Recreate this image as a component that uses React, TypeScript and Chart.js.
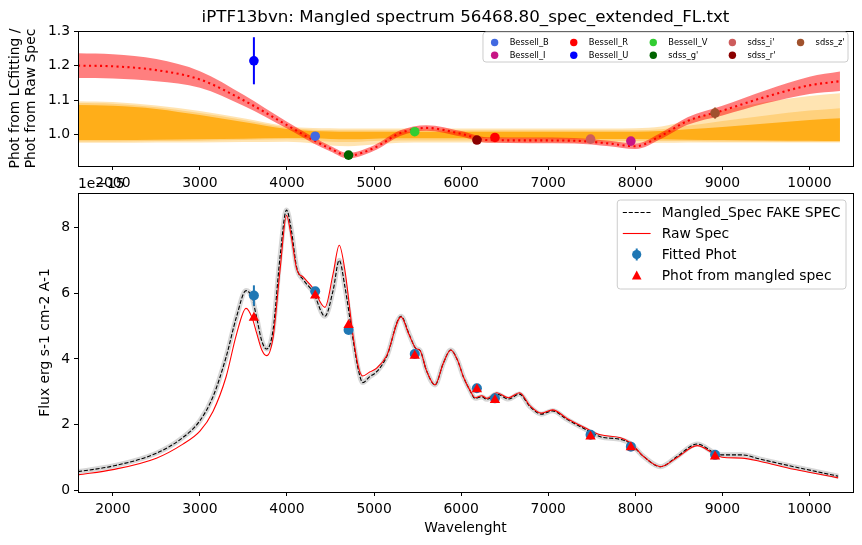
import { useEffect, useRef } from "react";
import { Chart, registerables } from "chart.js";

Chart.register(...registerables);

const FONT = "'DejaVu Sans', sans-serif";
Chart.defaults.font.family = FONT;
Chart.defaults.font.size = 13.9;
Chart.defaults.color = "#000";

const TITLE = "iPTF13bvn: Mangled spectrum 56468.80_spec_extended_FL.txt";

// ---- top panel: ratio of photometry ----
const bandWl = [1600, 2000, 2500, 3000, 3500, 4000, 4300, 4500, 4700, 5000, 5300, 5600, 6000, 6300, 6800, 7300, 7700, 8000, 8300, 8600, 9000, 9500, 10000, 10350];
const mangleFit = [1.2, 1.198, 1.187, 1.16, 1.1, 1.028, 0.985, 0.96, 0.94, 0.962, 1.005, 1.02, 1.003, 0.985, 0.984, 0.983, 0.975, 0.967, 0.998, 1.04, 1.07, 1.11, 1.143, 1.155];
const mangleUpper = [1.236, 1.233, 1.219, 1.184, 1.116, 1.038, 0.994, 0.968, 0.948, 0.97, 1.013, 1.028, 1.011, 0.993, 0.992, 0.991, 0.983, 0.975, 1.007, 1.051, 1.084, 1.129, 1.168, 1.183];
const mangleLower = [1.164, 1.163, 1.155, 1.136, 1.084, 1.018, 0.976, 0.952, 0.932, 0.954, 0.997, 1.012, 0.995, 0.977, 0.976, 0.975, 0.967, 0.959, 0.989, 1.029, 1.056, 1.091, 1.118, 1.127];
const realisOuterUpper = [1.097, 1.095, 1.085, 1.069, 1.048, 1.025, 1.02, 1.019, 1.018, 1.018, 1.018, 1.018, 1.018, 1.018, 1.018, 1.018, 1.018, 1.019, 1.024, 1.042, 1.07, 1.095, 1.112, 1.12];
const realisOuterLower = [0.977, 0.977, 0.978, 0.978, 0.979, 0.98, 0.975, 0.969, 0.967, 0.972, 0.977, 0.978, 0.978, 0.978, 0.978, 0.977, 0.976, 0.976, 0.977, 0.978, 0.978, 0.978, 0.978, 0.978];
const realisMidUpper = [1.092, 1.09, 1.08, 1.063, 1.043, 1.021, 1.015, 1.014, 1.013, 1.013, 1.013, 1.013, 1.013, 1.013, 1.013, 1.013, 1.013, 1.013, 1.016, 1.026, 1.04, 1.056, 1.07, 1.077];
const realisMidLower = [0.981, 0.981, 0.982, 0.983, 0.985, 0.987, 0.984, 0.98, 0.979, 0.982, 0.984, 0.984, 0.984, 0.984, 0.984, 0.983, 0.982, 0.982, 0.982, 0.982, 0.981, 0.981, 0.98, 0.98];
const realisInnerUpper = [1.086, 1.084, 1.075, 1.057, 1.037, 1.017, 1.011, 1.01, 1.009, 1.009, 1.009, 1.009, 1.009, 1.009, 1.009, 1.009, 1.009, 1.009, 1.011, 1.016, 1.023, 1.033, 1.043, 1.048];
const realisInnerLower = [0.985, 0.985, 0.986, 0.987, 0.989, 0.991, 0.99, 0.988, 0.987, 0.989, 0.99, 0.99, 0.99, 0.99, 0.99, 0.989, 0.988, 0.988, 0.987, 0.986, 0.985, 0.984, 0.983, 0.982];

const filterNames = ["Bessell_B", "Bessell_I", "Bessell_R", "Bessell_U", "Bessell_V", "sdss_g'", "sdss_i'", "sdss_r'", "sdss_z'"];
const filterColors = ["#4169E1", "#C71585", "#FF0000", "#0000FF", "#32CD32", "#006400", "#CD5C5C", "#8B0000", "#A0522D"];
const filterWl = [4324, 7949, 6388, 3620, 5467, 4707, 7486, 6181, 8916];
const ratio = [0.996, 0.982, 0.9925, 1.214, 1.009, 0.9415, 0.9876, 0.985, 1.063];
const ratioErr = [0.004, 0.004, 0.004, 0.068, 0.004, 0.004, 0.004, 0.004, 0.016];

// ---- bottom panel: spectra ----
const specWl = [1600, 2000, 2500, 2800, 3000, 3150, 3300, 3420, 3530, 3600, 3650, 3710, 3766, 3840, 3920, 3995, 4050, 4110, 4190, 4300, 4436, 4530, 4600, 4665, 4760, 4820, 4870, 4950, 5030, 5145, 5310, 5400, 5480, 5530, 5600, 5700, 5795, 5880, 5960, 6025, 6100, 6160, 6237, 6294, 6409, 6543, 6670, 6790, 6920, 7050, 7215, 7440, 7600, 7830, 7940, 8095, 8290, 8480, 8710, 8900, 8995, 9225, 9436, 9819, 10100, 10330];
const mangledFlux = [0.57, 0.74, 1.13, 1.6, 2.12, 2.85, 4.05, 5.28, 6.08, 5.85, 5.28, 4.55, 4.3, 4.88, 7.1, 8.53, 7.92, 6.8, 6.4, 6.04, 5.3, 6.09, 7.0, 6.2, 4.57, 3.66, 3.28, 3.46, 3.61, 4.07, 5.3, 4.77, 4.32, 4.25, 3.66, 3.21, 3.87, 4.27, 3.95, 3.46, 3.05, 2.8, 2.85, 2.77, 2.93, 2.78, 2.93, 2.55, 2.32, 2.42, 2.16, 1.84, 1.63, 1.55, 1.43, 1.03, 0.72, 1.03, 1.41, 1.16, 1.08, 1.08, 0.95, 0.72, 0.56, 0.43];
const rawFlux = [0.47, 0.63, 0.98, 1.4, 1.8, 2.4, 3.45, 4.75, 5.54, 5.25, 4.8, 4.28, 4.1, 4.65, 6.7, 8.37, 7.71, 6.75, 6.48, 6.15, 5.57, 6.6, 7.46, 6.7, 4.68, 3.76, 3.48, 3.6, 3.72, 4.1, 5.28, 4.75, 4.32, 4.25, 3.66, 3.21, 3.87, 4.27, 3.95, 3.46, 3.05, 2.82, 2.88, 2.8, 2.97, 2.82, 2.97, 2.58, 2.35, 2.45, 2.19, 1.88, 1.69, 1.6, 1.46, 1.03, 0.72, 1.0, 1.36, 1.12, 1.01, 0.98, 0.88, 0.64, 0.5, 0.38];
const fittedPhot = [6.06, 1.33, 2.8, 5.93, 4.15, 4.88, 1.69, 3.11, 1.08];
const fittedPhotErr = [0.05, 0.03, 0.04, 0.31, 0.04, 0.05, 0.03, 0.04, 0.03];
const mangledPhot = [5.93, 1.31, 2.75, 5.25, 4.1, 5.03, 1.64, 3.08, 1.03];

const specLegendLabels = ["Mangled_Spec FAKE SPEC", "Raw Spec", "Fitted Phot", "Phot from mangled spec"];

const xTicks = [2000, 3000, 4000, 5000, 6000, 7000, 8000, 9000, 10000];
const ratioTicks = [1.0, 1.1, 1.2, 1.3];
const fluxTicks = [0, 2, 4, 6, 8];

const pts = (xs: number[], ys: number[]) => xs.map((x, i) => ({ x, y: ys[i] }));

// full matplotlib-like frame
const framePlugin = {
  id: "frame",
  afterDraw(chart: any) {
    const { ctx, chartArea: a } = chart;
    ctx.save();
    ctx.strokeStyle = "#000";
    ctx.lineWidth = 1;
    ctx.strokeRect(Math.round(a.left) + 0.5, Math.round(a.top) + 0.5, Math.round(a.right - a.left), Math.round(a.bottom - a.top));
    ctx.restore();
  },
};

// vertical error bars for datasets carrying an errorBars array
const errorBarPlugin = {
  id: "errorBars",
  beforeDatasetDraw(chart: any, args: any) {
    const ds = chart.data.datasets[args.index];
    if (!ds.errorBars) return;
    const { ctx, scales } = chart;
    ctx.save();
    ctx.strokeStyle = ds.borderColor;
    ctx.lineWidth = 2;
    ds.data.forEach((p: any, i: number) => {
      const e = ds.errorBars[i];
      const x = scales.x.getPixelForValue(p.x);
      ctx.beginPath();
      ctx.moveTo(x, scales.y.getPixelForValue(p.y + e));
      ctx.lineTo(x, scales.y.getPixelForValue(p.y - e));
      ctx.stroke();
    });
    ctx.restore();
  },
};

function legendFrame(ctx: any, x: number, y: number, w: number, h: number) {
  ctx.beginPath();
  ctx.roundRect(x, y, w, h, 3);
  ctx.fillStyle = "rgba(255,255,255,0.8)";
  ctx.fill();
  ctx.strokeStyle = "#cccccc";
  ctx.lineWidth = 1;
  ctx.stroke();
}

const ratioDecor = {
  id: "ratioDecor",
  afterDraw(chart: any) {
    const { ctx, chartArea: a } = chart;
    ctx.save();
    ctx.fillStyle = "#000";
    ctx.font = `16.7px ${FONT}`;
    ctx.textAlign = "center";
    ctx.textBaseline = "alphabetic";
    ctx.fillText(TITLE, (a.left + a.right) / 2, 21.5);

    // legend: 2 rows, filled column by column
    const fs = 8.33;
    ctx.font = `${fs}px ${FONT}`;
    const rows = 2;
    const n = filterNames.length;
    const cols = Math.ceil(n / rows);
    const handle = 2 * fs, pad = 0.8 * fs, space = 2 * fs, border = 0.4 * fs;
    const widths: number[] = [];
    for (let c = 0; c < cols; c++) {
      let w = 0;
      for (let r = 0; r < rows; r++) {
        const i = c * rows + r;
        if (i < n) w = Math.max(w, ctx.measureText(filterNames[i]).width);
      }
      widths.push(w);
    }
    const boxW = 2 * border + widths.reduce((s, w) => s + handle + pad + w, 0) + space * (cols - 1);
    const boxH = 30;
    const top = a.top + 1;
    const left = a.right - 5 - boxW;
    legendFrame(ctx, left, top, boxW, boxH);
    ctx.textAlign = "left";
    ctx.textBaseline = "middle";
    let cx = left + border;
    for (let c = 0; c < cols; c++) {
      for (let r = 0; r < rows; r++) {
        const i = c * rows + r;
        if (i >= n) continue;
        const y = top + 10.5 + r * 12.7;
        ctx.fillStyle = filterColors[i];
        ctx.beginPath();
        ctx.arc(cx + handle / 2, y, 3.7, 0, Math.PI * 2);
        ctx.fill();
        ctx.fillStyle = "#000";
        ctx.fillText(filterNames[i], cx + handle + pad, y + 0.5);
      }
      cx += handle + pad + widths[c] + space;
    }
    ctx.restore();
  },
};

const specDecor = {
  id: "specDecor",
  afterDraw(chart: any) {
    const { ctx, chartArea: a } = chart;
    ctx.save();
    ctx.fillStyle = "#000";
    ctx.font = `13.9px ${FONT}`;
    ctx.textAlign = "left";
    ctx.textBaseline = "alphabetic";
    ctx.fillText("1e\u221215", a.left, a.top - 5);

    const fs = 13.9;
    const border = 0.4 * fs, handle = 2 * fs, pad = 0.8 * fs;
    const maxW = Math.max(...specLegendLabels.map((t) => ctx.measureText(t).width));
    const boxW = 2 * border + handle + pad + maxW;
    const boxH = 89;
    const top = a.top + 7;
    const left = a.right - 7 - boxW;
    legendFrame(ctx, left, top, boxW, boxH);
    const hx0 = left + border;
    const hx1 = hx0 + handle;
    const hc = (hx0 + hx1) / 2;
    specLegendLabels.forEach((label, i) => {
      const y = top + 12.5 + i * 21;
      ctx.save();
      if (i === 0 || i === 1) {
        ctx.strokeStyle = i === 0 ? "#000" : "#FF0000";
        ctx.lineWidth = 1.1;
        ctx.setLineDash(i === 0 ? [4.1, 1.8] : []);
        ctx.beginPath();
        ctx.moveTo(hx0, y);
        ctx.lineTo(hx1, y);
        ctx.stroke();
      } else if (i === 2) {
        ctx.strokeStyle = "#1f77b4";
        ctx.lineWidth = 2;
        ctx.beginPath();
        ctx.moveTo(hc, y - 6);
        ctx.lineTo(hc, y + 6);
        ctx.stroke();
        ctx.fillStyle = "#1f77b4";
        ctx.beginPath();
        ctx.arc(hc, y, 4.6, 0, Math.PI * 2);
        ctx.fill();
      } else {
        ctx.fillStyle = "#FF0000";
        ctx.beginPath();
        ctx.moveTo(hc, y - 5);
        ctx.lineTo(hc + 4.8, y + 4);
        ctx.lineTo(hc - 4.8, y + 4);
        ctx.closePath();
        ctx.fill();
      }
      ctx.restore();
      ctx.fillStyle = "#000";
      ctx.textBaseline = "middle";
      ctx.fillText(label, hx1 + pad, y + 0.5);
    });
    ctx.restore();
  },
};

function xAxis(height: number, title?: any) {
  return {
    type: "linear",
    min: 1600,
    max: 10500,
    afterBuildTicks: (s: any) => {
      s.ticks = xTicks.map((v) => ({ value: v }));
    },
    afterFit: (s: any) => {
      s.height = height;
    },
    ticks: { callback: (v: any) => String(v), padding: 5, maxRotation: 0, autoSkip: false },
    grid: { drawOnChartArea: false, color: "#000", tickLength: 4 },
    border: { display: false },
    title: title ?? { display: false },
  };
}

function yAxis(min: number, max: number, ticks: number[], digits: number, title: any) {
  return {
    type: "linear",
    min,
    max,
    afterBuildTicks: (s: any) => {
      s.ticks = ticks.map((v) => ({ value: v }));
    },
    afterFit: (s: any) => {
      s.width = 78;
    },
    ticks: { callback: (v: any) => Number(v).toFixed(digits), padding: 4 },
    grid: { drawOnChartArea: false, color: "#000", tickLength: 4 },
    border: { display: false },
    title,
  };
}

const bandLine = (data: number[], order: number, fillColor?: string) => ({
  data: pts(bandWl, data),
  borderWidth: 0,
  borderColor: "transparent",
  pointRadius: 0,
  cubicInterpolationMode: "monotone",
  fill: fillColor ? "-1" : false,
  backgroundColor: fillColor ?? "transparent",
  order,
});

function RatioPanel() {
  const ref = useRef<HTMLCanvasElement>(null);
  useEffect(() => {
    if (!ref.current) return;
    const chart = new Chart(ref.current, {
      type: "line",
      data: {
        datasets: [
          bandLine(realisOuterLower, 100),
          bandLine(realisOuterUpper, 99, "rgba(255,165,0,0.3)"),
          bandLine(realisMidLower, 98),
          bandLine(realisMidUpper, 97, "rgba(255,165,0,0.3)"),
          bandLine(realisInnerLower, 96),
          bandLine(realisInnerUpper, 95, "rgba(255,165,0,0.8)"),
          bandLine(mangleLower, 90),
          bandLine(mangleUpper, 89, "rgba(255,0,0,0.5)"),
          {
            data: pts(bandWl, mangleFit),
            borderColor: "#FF0000",
            borderWidth: 2.1,
            borderDash: [2.1, 3.4],
            pointRadius: 0,
            cubicInterpolationMode: "monotone",
            fill: false,
            order: 80,
          },
          ...filterNames.map((name, i) => ({
            label: name,
            data: [{ x: filterWl[i], y: ratio[i] }],
            showLine: false,
            pointRadius: 4.8,
            pointBorderWidth: 0,
            pointBackgroundColor: filterColors[i],
            borderColor: filterColors[i],
            errorBars: [ratioErr[i]],
            fill: false,
            order: 0,
          })),
        ] as any,
      },
      options: {
        responsive: false,
        animation: false,
        events: [],
        layout: { padding: { top: 31, right: 9, left: 0, bottom: 0 } },
        scales: {
          x: xAxis(24) as any,
          y: yAxis(0.91, 1.3, ratioTicks, 1, {
            display: true,
            text: ["Phot from LCfitting /", "Phot from Raw Spec"],
            font: { size: 13.9, lineHeight: 1.15 },
            padding: { top: 7, bottom: 0 },
          }) as any,
        },
        plugins: { legend: { display: false }, tooltip: { enabled: false } },
      },
      plugins: [errorBarPlugin, framePlugin, ratioDecor],
    });
    return () => chart.destroy();
  }, []);
  return <canvas ref={ref} width={862} height={190} style={{ position: "absolute", left: 0, top: 0 }} />;
}

function SpectrumPanel() {
  const ref = useRef<HTMLCanvasElement>(null);
  useEffect(() => {
    if (!ref.current) return;
    const chart = new Chart(ref.current, {
      type: "line",
      data: {
        datasets: [
          {
            data: pts(specWl, mangledFlux),
            borderColor: "rgba(140,140,140,0.35)",
            borderWidth: 5,
            pointRadius: 0,
            cubicInterpolationMode: "monotone",
            fill: false,
            order: 30,
          },
          {
            label: "Mangled_Spec FAKE SPEC",
            data: pts(specWl, mangledFlux),
            borderColor: "#000",
            borderWidth: 1.1,
            borderDash: [4.1, 1.8],
            pointRadius: 0,
            cubicInterpolationMode: "monotone",
            fill: false,
            order: 20,
          },
          {
            label: "Raw Spec",
            data: pts(specWl, rawFlux),
            borderColor: "#FF0000",
            borderWidth: 1.1,
            pointRadius: 0,
            cubicInterpolationMode: "monotone",
            fill: false,
            order: 10,
          },
          {
            label: "Fitted Phot",
            data: pts(filterWl, fittedPhot),
            showLine: false,
            pointRadius: 5,
            pointBorderWidth: 0,
            pointBackgroundColor: "#1f77b4",
            borderColor: "#1f77b4",
            errorBars: fittedPhotErr,
            fill: false,
            order: 5,
          },
          {
            label: "Phot from mangled spec",
            data: pts(filterWl, mangledPhot),
            showLine: false,
            pointStyle: "triangle",
            pointRadius: 6,
            pointBorderWidth: 0,
            pointBackgroundColor: "#FF0000",
            borderColor: "#FF0000",
            fill: false,
            order: 1,
          },
        ] as any,
      },
      options: {
        responsive: false,
        animation: false,
        events: [],
        layout: { padding: { top: 18, right: 9, left: 0, bottom: 0 } },
        scales: {
          x: xAxis(53, {
            display: true,
            text: "Wavelenght",
            font: { size: 13.9, lineHeight: 1.15 },
            padding: { top: 0, bottom: 9 },
          }) as any,
          y: yAxis(-0.05, 9.05, fluxTicks, 0, {
            display: true,
            text: "Flux erg s-1 cm-2 A-1",
            font: { size: 13.9, lineHeight: 1.15 },
            padding: { top: 37, bottom: 0 },
          }) as any,
        },
        plugins: { legend: { display: false }, tooltip: { enabled: false } },
      },
      plugins: [errorBarPlugin, framePlugin, specDecor],
    });
    return () => chart.destroy();
  }, []);
  return <canvas ref={ref} width={862} height={370} style={{ position: "absolute", left: 0, top: 175 }} />;
}

export default function App() {
  return (
    <div style={{ position: "absolute", left: 0, top: 0, width: 862, height: 545, background: "#fff" }}>
      <RatioPanel />
      <SpectrumPanel />
    </div>
  );
}
